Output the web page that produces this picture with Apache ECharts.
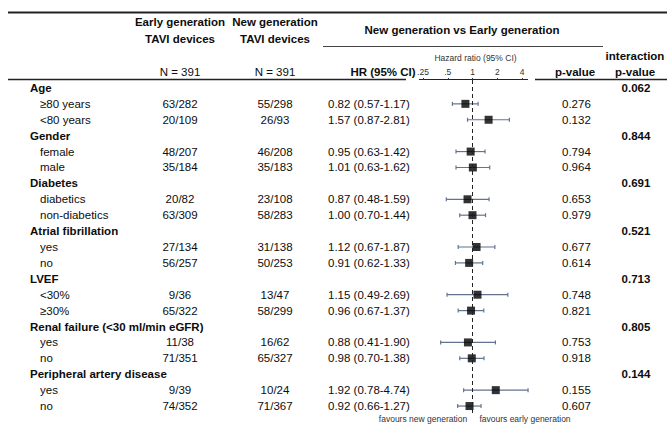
<!DOCTYPE html>
<html>
<head>
<meta charset="utf-8">
<script src="https://cdn.jsdelivr.net/npm/echarts@6/dist/echarts.min.js"></script>
<style>
html,body{margin:0;padding:0;background:#fff;}
#chart{width:667px;height:425px;}
</style>
</head>
<body>
<div id="chart"></div>
<script>
// ---- data ----
const groups = ['Age','Gender','Diabetes','Atrial fibrillation','LVEF','Renal failure (<30 ml/min eGFR)','Peripheral artery disease'];
const subgroupsPerGroup = [2,2,2,2,2,2,2];
const interactionP = ['0.062','0.844','0.691','0.521','0.713','0.805','0.144'];
const subgroups = ['≥80 years','<80 years','female','male','diabetics','non-diabetics','yes','no','<30%','≥30%','yes','no','yes','no'];
const earlyEvents = ['63/282','20/109','48/207','35/184','20/82','63/309','27/134','56/257','9/36','65/322','11/38','71/351','9/39','74/352'];
const newEvents = ['55/298','26/93','46/208','35/183','23/108','58/283','31/138','50/253','13/47','58/299','16/62','65/327','10/24','71/367'];
const hr = [0.82,1.57,0.95,1.01,0.87,1.00,1.12,0.91,1.15,0.96,0.88,0.98,1.92,0.92];
const ciLow = [0.57,0.87,0.63,0.63,0.48,0.70,0.67,0.62,0.49,0.67,0.41,0.70,0.78,0.66];
const ciHigh = [1.17,2.81,1.42,1.62,1.59,1.44,1.87,1.33,2.69,1.37,1.90,1.38,4.74,1.27];
const pValues = ['0.276','0.132','0.794','0.964','0.653','0.979','0.677','0.614','0.748','0.821','0.753','0.918','0.155','0.607'];
const axisMin = 0.25, axisMax = 4;
const nEarly = 'N = 391', nNew = 'N = 391';

// ---- build rows ----
const rows = [];
let k = 0;
groups.forEach((g, gi) => {
  rows.push({type:'group', label:g, inter:interactionP[gi]});
  for (let j = 0; j < subgroupsPerGroup[gi]; j++, k++) {
    rows.push({type:'sub', label:subgroups[k], early:earlyEvents[k], nw:newEvents[k],
      hr:hr[k], lo:ciLow[k], hi:ciHigh[k], p:pValues[k]});
  }
});
const rowIdx = rows.map((r, i) => i);

const FONT = '"Liberation Sans", Arial, sans-serif';
const REG = '11.5px ' + FONT;
const BOLD = 'bold 11.5px ' + FONT;
const TXT = '#0d0d0d';

const chart = echarts.init(document.getElementById('chart'), null, {renderer:'svg'});

function t(x, y, s, font, align, fill) {
  return {type:'text', x:x, y:y, style:{text:s, font:font || REG, fill:fill || TXT, align:align || 'center', verticalAlign:'middle'}};
}
function hline(x1, x2, y, w, c) {
  return {type:'line', shape:{x1:x1, y1:y, x2:x2, y2:y}, style:{stroke:c || '#222', lineWidth:w}};
}

const graphics = [
  hline(8, 667, 12.5, 2, '#222'),
  hline(323, 603, 46.5, 1, '#444'),
  hline(8, 406, 79.5, 1.5, '#222'),
  hline(419, 528, 79.5, 1, '#222'),
  hline(535, 667, 79.5, 1.5, '#222'),
  t(180, 22, 'Early generation', BOLD),
  t(180, 39, 'TAVI devices', BOLD),
  t(275, 22, 'New generation', BOLD),
  t(275, 39, 'TAVI devices', BOLD),
  t(462, 30, 'New generation vs Early generation', BOLD),
  t(180, 72, nEarly, REG),
  t(275, 72, nNew, REG),
  t(383, 72, 'HR (95% CI)', BOLD),
  t(575, 72, 'p-value', BOLD),
  t(635, 56, 'interaction', BOLD),
  t(635, 72, 'p-value', BOLD),
  t(423, 419, 'favours new generation', '8.5px ' + FONT, 'center', '#333'),
  t(525, 419, 'favours early generation', '8.5px ' + FONT, 'center', '#333')
];

const option = {
  animation: false,
  backgroundColor: '#fff',
  grid: {left: 423, width: 99, top: 80, height: 334},
  xAxis: {
    type: 'log', logBase: 2, min: axisMin, max: axisMax, position: 'top',
    name: 'Hazard ratio (95% CI)', nameLocation: 'middle', nameGap: 13,
    nameTextStyle: {fontFamily: FONT, fontSize: 8.5, color: '#333', padding: [0, 0, 0, 6]},
    axisLine: {show: false},
    axisTick: {show: true, length: 2, inside: false, lineStyle: {color: '#333'}},
    axisLabel: {margin: 4, fontFamily: FONT, fontSize: 8.5, color: '#333',
      formatter: v => (v < 1 ? String(+v.toFixed(2)).replace(/^0/, '') : String(Math.round(v)))},
    splitLine: {show: false}
  },
  yAxis: {type: 'category', data: rowIdx, inverse: true, show: false},
  graphic: graphics,
  series: [
    {
      type: 'custom', name: 'table', clip: false,
      data: rowIdx,
      encode: {y: 0},
      renderItem: function (params, api) {
        const i = api.value(0);
        const r = rows[i];
        const y = api.coord([1, i])[1];
        const children = [];
        if (r.type === 'group') {
          children.push(t(30, y, r.label, BOLD, 'left'));
          children.push(t(636, y, r.inter, BOLD, 'center'));
        } else {
          const hrTxt = r.hr.toFixed(2) + ' (' + r.lo.toFixed(2) + '-' + r.hi.toFixed(2) + ')';
          children.push(t(40, y, r.label, REG, 'left'));
          children.push(t(180, y, r.early, REG, 'center'));
          children.push(t(275, y, r.nw, REG, 'center'));
          children.push(t(328, y, hrTxt, REG, 'left'));
          children.push(t(562, y, r.p, REG, 'left'));
        }
        return {type:'group', children: children};
      }
    },
    {
      type: 'custom', name: 'ci', clip: false,
      data: rows.map((r, i) => r.type === 'sub' ? [r.lo, r.hi, i] : [null, null, i]),
      encode: {x: [0, 1], y: 2},
      renderItem: function (params, api) {
        const lo = api.value(0), hi = api.value(1), i = api.value(2);
        if (lo == null || isNaN(lo)) return null;
        const a = api.coord([lo, i]), b = api.coord([hi, i]);
        const st = {stroke:'#61738f', lineWidth:1.2};
        return {type:'group', children:[
          {type:'line', shape:{x1:a[0], y1:a[1], x2:b[0], y2:b[1]}, style:st},
          {type:'line', shape:{x1:a[0], y1:a[1]-2, x2:a[0], y2:a[1]+2}, style:st},
          {type:'line', shape:{x1:b[0], y1:b[1]-2, x2:b[0], y2:b[1]+2}, style:st}
        ]};
      },
      z: 2
    },
    {
      type: 'scatter', name: 'HR', symbol: 'rect', symbolSize: 8,
      itemStyle: {color: '#000'},
      data: rows.map((r, i) => r.type === 'sub' ? [r.hr, i] : [null, i]).filter(d => d[0] != null),
      z: 3,
      markLine: {
        silent: true, symbol: 'none', label: {show: false},
        lineStyle: {color: '#222', type: [4, 3], width: 1},
        data: [{xAxis: 1}]
      }
    }
  ]
};
chart.setOption(option);
</script>
</body>
</html>
